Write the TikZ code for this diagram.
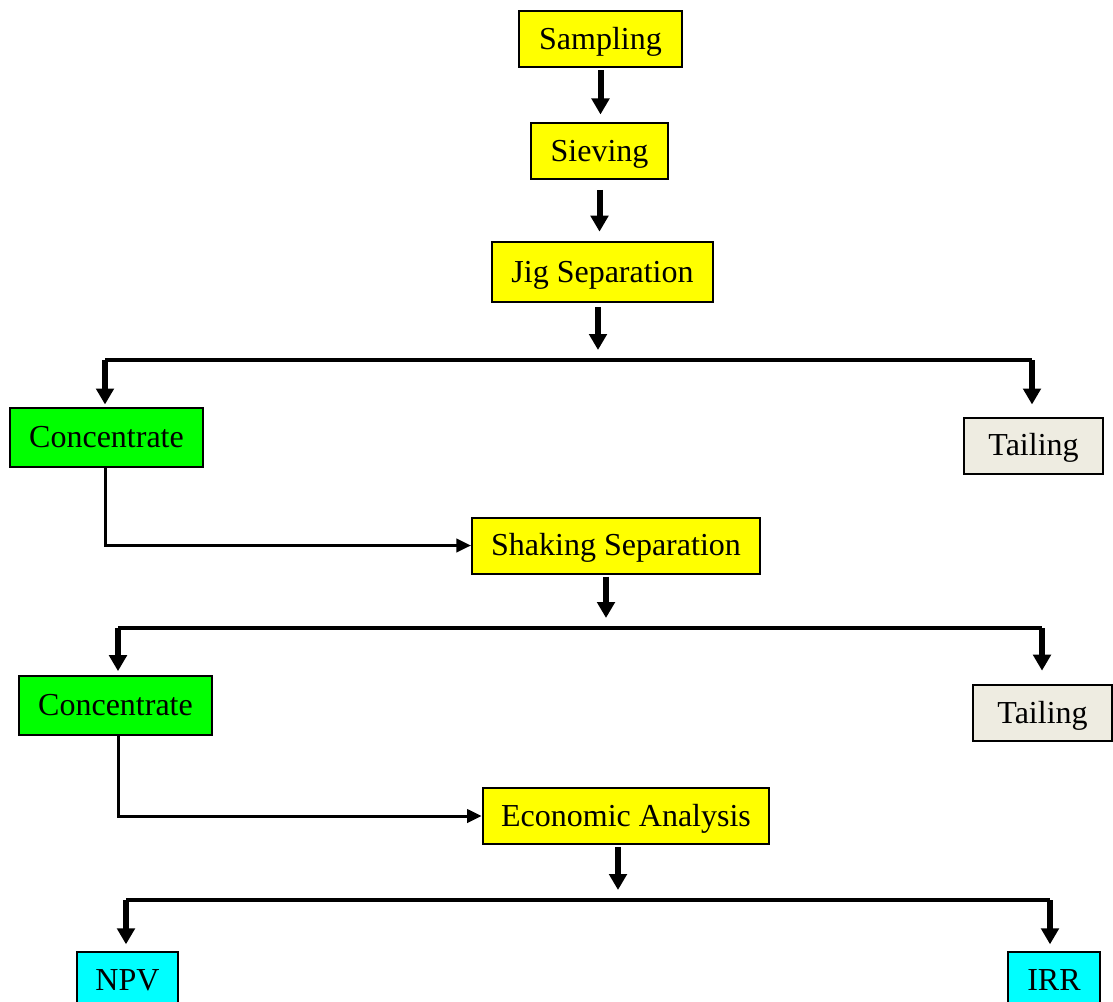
\documentclass[tikz,border=0pt]{standalone}
\usepackage{fontspec}
\setmainfont{Liberation Serif}
\usepackage{tikz}
\usetikzlibrary{arrows.meta}
\definecolor{tailgray}{HTML}{EEECE1}
\definecolor{boxyellow}{RGB}{255,255,0}
\definecolor{boxgreen}{RGB}{0,255,0}
\definecolor{boxcyan}{RGB}{0,255,255}
\tikzset{
	box/.style={draw, line width=1.5pt, minimum height=42pt, inner sep=0pt, text height=15pt, text depth=0pt, font=\fontsize{24}{28}\selectfont},
	fat/.style={line width=4.5pt, -{Triangle[width=13pt, length=12pt]}},
	bar/.style={line width=3pt},
	link/.style={line width=2.25pt, -{Triangle[width=10pt, length=11pt]}}
}

\begin{document}
\begin{tikzpicture}[x=0.75pt, y=-0.75pt]
	\clip (0, 0) rectangle (1113, 1002);
	\node[box, fill=boxyellow, minimum width=122pt] (0) at (600.5, 39.5) {Sampling};
	\node[box, fill=boxyellow, minimum width=103pt] (1) at (599.5, 151.5) {Sieving};
	\node[box, fill=boxyellow, minimum width=166pt, minimum height=45pt] (2) at (602.5, 272) {Jig Separation};
	\node[box, fill=boxgreen, minimum width=145pt, minimum height=44pt] (3) at (106.5, 437.5) {Concentrate};
	\node[box, fill=tailgray, minimum width=104pt] (4) at (1033.5, 445.5) {Tailing};
	\node[box, fill=boxyellow, minimum width=216pt] (5) at (616, 545.5) {Shaking Separation};
	\node[box, fill=boxgreen, minimum width=145pt, minimum height=44pt] (6) at (115.5, 705.5) {Concentrate};
	\node[box, fill=tailgray, minimum width=104pt] (7) at (1042.5, 713) {Tailing};
	\node[box, fill=boxyellow, minimum width=215pt] (8) at (626, 816) {Economic Analysis};
	\node[box, fill=boxcyan, minimum width=76pt] (9) at (127.5, 980) {NPV};
	\node[box, fill=boxcyan, minimum width=69pt] (10) at (1054, 980) {IRR};
	\coordinate (a) at (598, 350);
	\coordinate (b) at (606, 618);
	\coordinate (c) at (618, 890);
	\coordinate (al) at (105, 360);
	\coordinate (ar) at (1032, 360);
	\coordinate (bl) at (118, 628);
	\coordinate (br) at (1042, 628);
	\coordinate (cl) at (126, 900);
	\coordinate (cr) at (1050, 900);
	\draw [fat, shorten <=1.5pt, shorten >=6pt] (0.south) to (0.south |- 1.north);
	\draw [fat, shorten <=7pt, shorten >=7pt] (1.south) to (1.south |- 2.north);
	\draw [fat, shorten <=3pt] (2.south -| a) to (a);
	\draw [bar] (al) to (ar);
	\draw [fat] (al) to ([yshift=2pt]3.north -| al);
	\draw [fat] (ar) to ([yshift=9pt]4.north -| ar);
	\draw [link] (3.south -| al) |- (5.west);
	\draw [fat, shorten <=1.5pt] (5.south -| b) to (b);
	\draw [bar] (bl) to (br);
	\draw [fat] (bl) to ([yshift=3pt]6.north -| bl);
	\draw [fat] (br) to ([yshift=10pt]7.north -| br);
	\draw [link] (6.south -| bl) |- (8.west);
	\draw [fat, shorten <=1.5pt] (8.south -| c) to (c);
	\draw [bar] (cl) to (cr);
	\draw [fat] (cl) to ([yshift=5pt]9.north -| cl);
	\draw [fat] (cr) to ([yshift=5pt]10.north -| cr);
\end{tikzpicture}
\end{document}
